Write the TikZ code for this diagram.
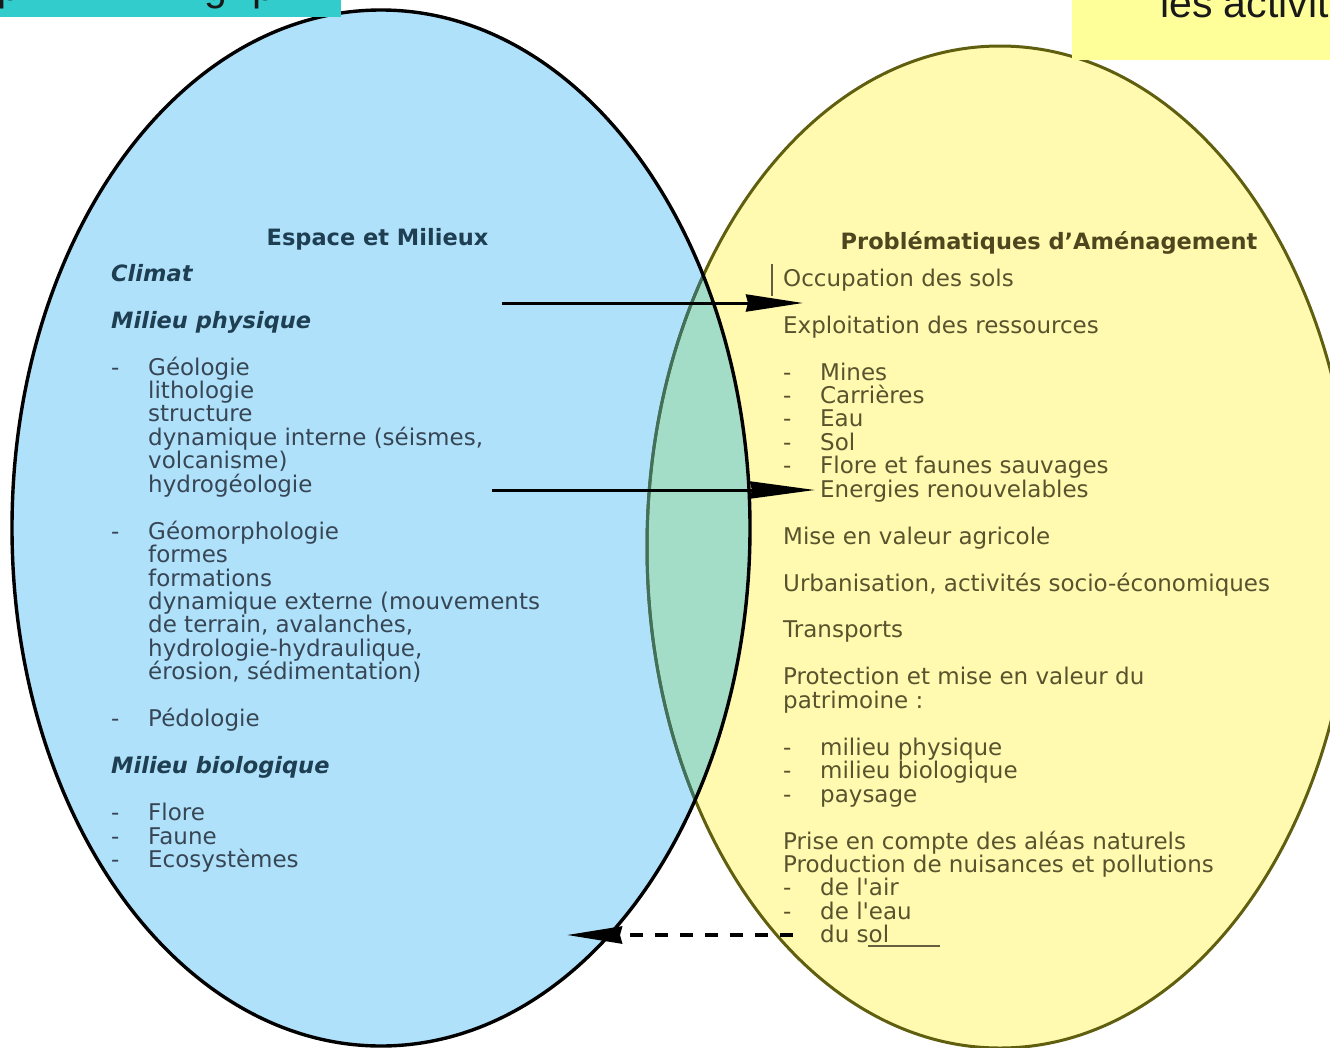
\documentclass[tikz,border=0pt]{standalone}
\usepackage{fontspec}
\newfontfamily\dv{DejaVu Sans}
\newfontfamily\lib{Liberation Sans}
\usetikzlibrary{arrows.meta}
\definecolor{bluefill}{RGB}{176,225,250}
\definecolor{yelfill}{RGB}{255,250,176}
\definecolor{lensfill}{RGB}{164,221,199}
\definecolor{yeledge}{RGB}{95,95,15}
\definecolor{lensedge}{RGB}{65,112,92}
\definecolor{tealbox}{RGB}{51,204,204}
\definecolor{yelbox}{RGB}{255,255,153}
\definecolor{bluetext}{RGB}{55,70,85}
\definecolor{bluehead}{RGB}{30,62,82}
\definecolor{yeltext}{RGB}{88,83,45}
\definecolor{yelhead}{RGB}{78,70,30}
\definecolor{marktext}{RGB}{100,95,65}
\newcommand\dsh{\makebox[37pt][l]{-}}
\newcommand\indt{\hspace*{37pt}}
\newcommand\bi[1]{{\bfseries\itshape\color{bluehead}\fontsize{22.5pt}{23.45pt}\selectfont#1}}
\newcommand\gap{\\[23.45pt]}
\newcommand\bodysize{\fontsize{23pt}{23.45pt}\selectfont}
\newcommand\headsize{\fontsize{22.5pt}{23.45pt}\selectfont}
\lineskiplimit=-50pt
\begin{document}
\begin{tikzpicture}[x=1pt,y=-1pt,
  bluelist/.style={font=\dv\bodysize,text=bluetext,align=left,inner sep=0pt,anchor=north west},
  yellist/.style={font=\dv\bodysize,text=yeltext,align=left,inner sep=0pt,anchor=north west},
  bhead/.style={font=\dv\bfseries\headsize,text=bluehead,inner sep=0pt,anchor=base},
  yhead/.style={font=\dv\bfseries\headsize,text=yelhead,inner sep=0pt,anchor=base},
  toptext/.style={font=\lib\fontsize{41pt}{48pt}\selectfont,text=black!90,inner sep=0pt,anchor=base west},
  arr/.style={line width=3pt,black},
  bighead/.style={-{Stealth[length=#1,width=17pt,inset=2pt]}}]
\useasboundingbox (0,0) rectangle (1330,1047);
\clip (0,0) rectangle (1330,1047);
% ellipses
\fill[bluefill] (381,528) ellipse [x radius=369pt, y radius=518pt];
\fill[yelfill] (1000,547) ellipse [x radius=353pt, y radius=501pt];
\begin{scope}
  \clip (381,528) ellipse [x radius=369pt, y radius=518pt];
  \fill[lensfill] (1000,547) ellipse [x radius=353pt, y radius=501pt];
\end{scope}
\draw[yeledge,line width=3pt] (1000,547) ellipse [x radius=353pt, y radius=501pt];
\begin{scope}
  \clip (381,528) ellipse [x radius=369pt, y radius=518pt];
  \draw[lensedge,line width=3pt] (1000,547) ellipse [x radius=353pt, y radius=501pt];
\end{scope}
\draw[black,line width=3.4pt] (381,528) ellipse [x radius=369pt, y radius=518pt];
% cropped title boxes
\fill[tealbox] (0,0) rectangle (341,17);
\fill[yelbox] (1072,0) rectangle (1330,60);
\node[toptext] (tl1) at (-3,0) {p};
\node[toptext] (tl2) at (204,0) {g};
\node[toptext] (tl3) at (252,0) {p};
\node[toptext] (tr) at (1160,17) {les activit};
% blue text
\node[bhead] (espace) at (377.5,245) {Espace et Milieux};
\node[bluelist] (blist) at (111,263) {\rule{0pt}{18pt}\bi{Climat}\gap
\bi{Milieu physique}\gap
\dsh G\'eologie\\
\indt lithologie\\
\indt structure\\
\indt dynamique interne (s\'eismes,\\
\indt volcanisme)\\
\indt hydrog\'eologie\gap
\dsh G\'eomorphologie\\
\indt formes\\
\indt formations\\
\indt dynamique externe (mouvements\\
\indt de terrain, avalanches,\\
\indt hydrologie-hydraulique,\\
\indt \'erosion, s\'edimentation)\gap
\dsh P\'edologie\gap
\bi{Milieu biologique}\gap
\dsh Flore\\
\dsh Faune\\
\dsh Ecosyst\`emes};
% yellow text
\node[yhead] (probl) at (1049,249) {Probl\'ematiques d’Am\'enagement};
\node[yellist] (ylist) at (783,268) {\rule{0pt}{18pt}Occupation des sols\gap
Exploitation des ressources\gap
\dsh Mines\\
\dsh Carri\`eres\\
\dsh Eau\\
\dsh Sol\\
\dsh Flore et faunes sauvages\\
\dsh Energies renouvelables\gap
Mise en valeur agricole\gap
Urbanisation, activit\'es socio-\'economiques\gap
Transports\gap
Protection et mise en valeur du\\
patrimoine :\gap
\dsh milieu physique\\
\dsh milieu biologique\\
\dsh paysage\gap
Prise en compte des al\'eas naturels\\
Production de nuisances et pollutions\\
\dsh de l'air\\
\dsh de l'eau\\
\dsh du sol};
% small marks
\coordinate (bar1) at (772,264);
\coordinate (bar2) at (772,296);
\draw[marktext,line width=1.2pt] (bar1) -- (bar2);
\coordinate (ul1) at (868,946);
\coordinate (ul2) at (940,946);
\draw[marktext,line width=1.2pt] (ul1) -- (ul2);
% arrows
\coordinate (a1s) at (502,303);
\coordinate (a1e) at (803,303);
\draw[arr,bighead=57pt] (a1s) -- (a1e);
\coordinate (a2s) at (492,490);
\coordinate (a2e) at (815,490);
\draw[arr,bighead=65pt] (a2s) -- (a2e);
\coordinate (a3s) at (793,935);
\coordinate (a3e) at (567,935);
\draw[arr,line width=3.5pt,dash pattern=on 13pt off 12pt,bighead=55pt] (a3s) -- (a3e);
\end{tikzpicture}
\end{document}
